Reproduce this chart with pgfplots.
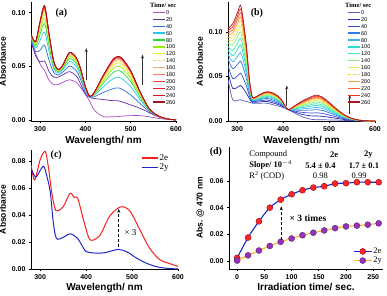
\documentclass[border=0pt]{standalone}
\usepackage{fontspec}
\setmainfont{Liberation Serif}
\setsansfont{Liberation Sans}
\usepackage{pgfplots}
\pgfplotsset{compat=1.18}
\usepackage{pgfplotstable}
\usetikzlibrary{arrows.meta}

\definecolor{ca0}{RGB}{170,70,200}
\definecolor{ca20}{RGB}{100,40,180}
\definecolor{ca40}{RGB}{40,110,220}
\definecolor{ca60}{RGB}{40,200,230}
\definecolor{ca80}{RGB}{40,220,60}
\definecolor{ca100}{RGB}{140,240,20}
\definecolor{ca120}{RGB}{230,240,30}
\definecolor{ca140}{RGB}{255,220,60}
\definecolor{ca160}{RGB}{255,170,100}
\definecolor{ca180}{RGB}{255,120,90}
\definecolor{ca200}{RGB}{250,60,50}
\definecolor{ca220}{RGB}{240,30,30}
\definecolor{ca240}{RGB}{210,20,30}
\definecolor{ca260}{RGB}{160,20,40}

\definecolor{cb0}{RGB}{90,90,200}
\definecolor{cb20}{RGB}{30,40,180}
\definecolor{cb40}{RGB}{50,80,210}
\definecolor{cb60}{RGB}{50,120,230}
\definecolor{cb80}{RGB}{60,180,240}
\definecolor{cb100}{RGB}{40,220,200}
\definecolor{cb120}{RGB}{60,240,160}
\definecolor{cb140}{RGB}{130,240,140}
\definecolor{cb160}{RGB}{210,240,80}
\definecolor{cb180}{RGB}{255,210,40}
\definecolor{cb200}{RGB}{255,160,50}
\definecolor{cb220}{RGB}{255,100,50}
\definecolor{cb240}{RGB}{240,50,30}
\definecolor{cb260}{RGB}{170,20,30}

\definecolor{c2e}{RGB}{250,30,30}
\definecolor{c2y}{RGB}{30,40,200}
\definecolor{l2e}{RGB}{20,40,210}
\definecolor{l2y}{RGB}{255,180,30}
\definecolor{m2e}{RGB}{255,40,40}
\definecolor{m2y}{RGB}{150,50,190}

\pgfplotstableread{
lam t0 t20 t40 t60 t80 t100 t120 t140 t160 t180 t200 t220 t240 t260
280 0.072 0.074 0.0757 0.0772 0.0781 0.0787 0.0791 0.0794 0.0796 0.0797 0.0799 0.0799 0.0800 0.0800
290 0.062 0.060 0.0638 0.0669 0.0688 0.0701 0.0711 0.0717 0.0721 0.0724 0.0727 0.0729 0.0730 0.0730
300 0.052 0.054 0.0650 0.0741 0.0798 0.0836 0.0863 0.0882 0.0893 0.0903 0.0911 0.0916 0.0919 0.0920
310 0.046 0.055 0.0698 0.0820 0.0897 0.0948 0.0984 0.1009 0.1024 0.1037 0.1047 0.1055 0.1062 0.1070
320 0.037 0.045 0.0552 0.0636 0.0688 0.0723 0.0748 0.0765 0.0776 0.0784 0.0791 0.0797 0.0799 0.0800
330 0.033 0.040 0.0444 0.0480 0.0502 0.0517 0.0528 0.0535 0.0540 0.0543 0.0546 0.0549 0.0550 0.0550
340 0.033 0.040 0.0420 0.0437 0.0448 0.0455 0.0460 0.0463 0.0465 0.0467 0.0468 0.0469 0.0470 0.0470
350 0.035 0.042 0.0446 0.0468 0.0481 0.0490 0.0497 0.0501 0.0504 0.0506 0.0508 0.0509 0.0510 0.0510
365 0.0375 0.045 0.0502 0.0545 0.0572 0.0590 0.0603 0.0612 0.0617 0.0622 0.0626 0.0628 0.0630 0.0630
380 0.035 0.041 0.0459 0.0500 0.0526 0.0543 0.0555 0.0563 0.0568 0.0572 0.0576 0.0578 0.0580 0.0580
390 0.030 0.033 0.0371 0.0404 0.0425 0.0439 0.0449 0.0456 0.0460 0.0464 0.0467 0.0469 0.0470 0.0470
400 0.024 0.024 0.0260 0.0277 0.0288 0.0295 0.0300 0.0303 0.0305 0.0307 0.0308 0.0309 0.0310 0.0310
410 0.017 0.021 0.0213 0.0215 0.0217 0.0218 0.0219 0.0219 0.0219 0.0220 0.0220 0.0220 0.0220 0.0220
420 0.009 0.020 0.0217 0.0232 0.0241 0.0247 0.0251 0.0254 0.0256 0.0257 0.0259 0.0259 0.0260 0.0260
440 0.003 0.019 0.0257 0.0312 0.0346 0.0369 0.0386 0.0397 0.0404 0.0410 0.0414 0.0418 0.0419 0.0420
460 0.003 0.018 0.0290 0.0381 0.0438 0.0476 0.0503 0.0522 0.0533 0.0543 0.0551 0.0556 0.0559 0.0560
470 0.003 0.018 0.0299 0.0397 0.0459 0.0500 0.0529 0.0549 0.0561 0.0572 0.0580 0.0586 0.0589 0.0590
480 0.0035 0.017 0.0289 0.0387 0.0449 0.0490 0.0519 0.0539 0.0551 0.0562 0.0570 0.0576 0.0579 0.0580
500 0.004 0.014 0.0233 0.0310 0.0358 0.0390 0.0412 0.0428 0.0438 0.0446 0.0452 0.0457 0.0459 0.0460
520 0.004 0.011 0.0156 0.0195 0.0219 0.0235 0.0246 0.0254 0.0259 0.0263 0.0266 0.0268 0.0270 0.0270
540 0.003 0.007 0.0082 0.0091 0.0097 0.0101 0.0104 0.0106 0.0107 0.0108 0.0109 0.0110 0.0110 0.0110
560 0.0015 0.003 0.0033 0.0035 0.0037 0.0038 0.0039 0.0039 0.0039 0.0040 0.0040 0.0040 0.0040 0.0040
580 0.0005 0.001 0.001 0.001 0.001 0.001 0.001 0.001 0.001 0.001 0.001 0.001 0.001 0.001
600 0 0 0 0 0 0 0 0 0 0 0 0 0 0
}\tabA

\pgfplotstableread{
lam t0 t20 t40 t60 t80 t100 t120 t140 t160 t180 t200 t220 t240 t260
280 0.046 0.0547 0.0622 0.0698 0.0750 0.0796 0.0837 0.0878 0.0912 0.0941 0.0968 0.0994 0.1017 0.104
290 0.024 0.0368 0.0478 0.0589 0.0665 0.0733 0.0793 0.0852 0.0903 0.0946 0.0984 0.1022 0.1056 0.109
300 0.023 0.0377 0.0504 0.0632 0.0720 0.0798 0.0867 0.0936 0.0994 0.1043 0.1088 0.1132 0.1171 0.121
307 0.024 0.0399 0.0537 0.0675 0.0770 0.0855 0.0929 0.1003 0.1067 0.1120 0.1168 0.1215 0.1258 0.130
312 0.023 0.0373 0.0496 0.0620 0.0705 0.0781 0.0848 0.0914 0.0971 0.1019 0.1061 0.1104 0.1142 0.118
320 0.022 0.0315 0.0396 0.0478 0.0535 0.0585 0.0630 0.0674 0.0711 0.0743 0.0771 0.0800 0.0825 0.085
327 0.021 0.0246 0.0277 0.0308 0.0330 0.0349 0.0366 0.0383 0.0397 0.0409 0.0420 0.0431 0.0440 0.045
333 0.020 0.0211 0.0220 0.0229 0.0235 0.0241 0.0246 0.0250 0.0255 0.0258 0.0261 0.0264 0.0267 0.027
340 0.020 0.0211 0.0220 0.0229 0.0235 0.0241 0.0246 0.0250 0.0255 0.0258 0.0261 0.0264 0.0267 0.027
350 0.020 0.0215 0.0228 0.0241 0.0250 0.0258 0.0265 0.0272 0.0278 0.0283 0.0288 0.0292 0.0296 0.030
365 0.020 0.0220 0.0236 0.0253 0.0265 0.0275 0.0285 0.0294 0.0301 0.0308 0.0314 0.0320 0.0325 0.033
380 0.018 0.0200 0.0216 0.0233 0.0245 0.0255 0.0265 0.0274 0.0281 0.0288 0.0294 0.0300 0.0305 0.031
395 0.016 0.0174 0.0185 0.0197 0.0205 0.0212 0.0219 0.0225 0.0230 0.0235 0.0239 0.0243 0.0246 0.025
410 0.013 0.013 0.013 0.013 0.013 0.013 0.013 0.013 0.013 0.013 0.013 0.013 0.013 0.013
425 0.009 0.0102 0.0112 0.0123 0.0130 0.0136 0.0142 0.0148 0.0152 0.0156 0.0160 0.0164 0.0167 0.017
440 0.005 0.0076 0.0098 0.0120 0.0135 0.0149 0.0161 0.0172 0.0183 0.0191 0.0199 0.0206 0.0213 0.022
460 0.002 0.0058 0.0090 0.0123 0.0145 0.0165 0.0183 0.0200 0.0215 0.0228 0.0239 0.0250 0.0260 0.027
472 0.0015 0.0056 0.0092 0.0128 0.0153 0.0175 0.0194 0.0213 0.0230 0.0243 0.0256 0.0268 0.0279 0.029
485 0.0015 0.0053 0.0086 0.0120 0.0143 0.0163 0.0181 0.0199 0.0214 0.0227 0.0238 0.0250 0.0260 0.027
500 0.0012 0.0042 0.0067 0.0093 0.0111 0.0127 0.0141 0.0155 0.0166 0.0176 0.0185 0.0194 0.0202 0.021
520 0.001 0.0027 0.0041 0.0055 0.0065 0.0074 0.0082 0.0089 0.0096 0.0101 0.0106 0.0111 0.0116 0.012
540 0.0005 0.0012 0.0018 0.0023 0.0028 0.0031 0.0034 0.0037 0.0040 0.0042 0.0044 0.0046 0.0048 0.005
560 0.0002 0.0004 0.0006 0.0007 0.0009 0.0010 0.0010 0.0011 0.0012 0.0013 0.0013 0.0014 0.0014 0.0015
580 0 0 0.0001 0.0001 0.0002 0.0002 0.0002 0.0002 0.0002 0.0002 0.0003 0.0003 0.0003 0.0003
600 0 0 0 0 0 0 0 0 0 0 0 0 0 0
}\tabB

\pgfplotstableread{
lam a
280 0.077
288 0.066
300 0.081
311 0.087
318 0.075
325 0.057
332 0.045
337 0.043
350 0.046
365 0.056
374 0.053
382 0.052
397 0.033
409 0.0215
430 0.025
451 0.039
475 0.046
495 0.043
517 0.029
538 0.0155
560 0.007
582 0.004
600 0.002
}\tabCe

\pgfplotstableread{
lam a
280 0.0745
290 0.068
300 0.073
308 0.076
315 0.068
322 0.057
328 0.036
333 0.025
338 0.022
350 0.0234
365 0.026
380 0.0232
390 0.018
400 0.013
420 0.0118
440 0.012
470 0.0145
490 0.0125
510 0.008
530 0.0045
550 0.002
570 0.0007
600 0
}\tabCy

\pgfplotstableread{
t a
0 0.0025
20 0.0177
40 0.0298
60 0.0400
80 0.0460
100 0.0500
120 0.0530
140 0.0550
160 0.0560
180 0.0580
200 0.0583
220 0.0590
240 0.0590
260 0.0590
}\tabDe

\pgfplotstableread{
t a
0 0.0005
20 0.0044
40 0.0080
60 0.0114
80 0.0145
100 0.0170
120 0.0194
140 0.0213
160 0.0230
180 0.0247
200 0.0260
220 0.0266
240 0.0273
260 0.0283
}\tabDy

\pgfplotsset{
  myax/.style={
    scale only axis,
    axis x line*=bottom, axis y line*=left,
    tick align=outside, major tick length=2pt,
    axis line style={line width=0.6pt},
    every tick/.style={black, line width=0.6pt},
    tick label style={font=\sffamily\bfseries\fontsize{7}{8}\selectfont},
    /pgf/number format/assume math mode=true,
    xlabel style={font=\sffamily\bfseries\fontsize{10}{12}\selectfont, yshift=2pt},
    ylabel style={font=\sffamily\bfseries\fontsize{8.5}{10}\selectfont, yshift=-1pt},
    scaled y ticks=false,
    yticklabel style={/pgf/number format/.cd, fixed, fixed zerofill, precision=2},
    clip mode=individual,
  },
  spec/.style={
    xmin=280, xmax=600, xtick={300,400,500,600},
    xlabel={Wavelength/ nm}, ylabel={Absorbance},
  },
  tlegend/.style={
    legend style={draw=none, fill=none, anchor=north west,
      font=\sffamily\fontsize{5.5}{6}\selectfont,
      row sep=1.5pt, inner sep=0pt,
      nodes={inner sep=0.6pt, text height=4.2pt, text depth=0pt}},
    legend cell align=left,
    legend image code/.code={\draw[##1, line width=1.3pt] (0pt,0pt) -- (12pt,0pt);},
  },
  cur/.style={no marks, smooth, line width=0.7pt},
}

\begin{document}
\begin{tikzpicture}
\path[use as bounding box] (0pt,0pt) rectangle (387pt,295pt);

% ---------------- (a) ----------------
\begin{axis}[myax, spec, tlegend, at={(31pt,174pt)}, anchor=south west,
  width=145pt, height=119pt, ymin=-0.001, ymax=0.110, ytick={0,0.05,0.1},
  legend style={at={(rel axis cs:0.835,0.995)}}]
\addlegendimage{empty legend}
\addlegendentry{\hspace*{-16pt}\rmfamily\bfseries\fontsize{6.5}{7}\selectfont Time/ sec}
\addplot[cur, ca0] table[x=lam,y=t0]{\tabA}; \addlegendentry{0}
\addplot[cur, ca20] table[x=lam,y=t20]{\tabA}; \addlegendentry{20}
\addplot[cur, ca40] table[x=lam,y=t40]{\tabA}; \addlegendentry{40}
\addplot[cur, ca60] table[x=lam,y=t60]{\tabA}; \addlegendentry{60}
\addplot[cur, ca80] table[x=lam,y=t80]{\tabA}; \addlegendentry{80}
\addplot[cur, ca100] table[x=lam,y=t100]{\tabA}; \addlegendentry{100}
\addplot[cur, ca120] table[x=lam,y=t120]{\tabA}; \addlegendentry{120}
\addplot[cur, ca140, densely dashed] table[x=lam,y=t140]{\tabA}; \addlegendentry{140}
\addplot[cur, ca160] table[x=lam,y=t160]{\tabA}; \addlegendentry{160}
\addplot[cur, ca180] table[x=lam,y=t180]{\tabA}; \addlegendentry{180}
\addplot[cur, ca200] table[x=lam,y=t200]{\tabA}; \addlegendentry{200}
\addplot[cur, ca220] table[x=lam,y=t220]{\tabA}; \addlegendentry{220}
\addplot[cur, ca240] table[x=lam,y=t240]{\tabA}; \addlegendentry{240}
\addplot[cur, ca260] table[x=lam,y=t260]{\tabA}; \addlegendentry{260}
\draw[-{Stealth[length=4pt,width=3pt]}, line width=0.8pt, black!80] (axis cs:402,0.0375) -- (axis cs:402,0.067);
\draw[-{Stealth[length=4pt,width=3pt]}, line width=0.8pt, black!80] (axis cs:526,0.033) -- (axis cs:526,0.061);
\node[font=\rmfamily\bfseries\fontsize{10}{12}\selectfont] at (axis cs:347,0.100) {(a)};
\end{axis}

% ---------------- (b) ----------------
\begin{axis}[myax, spec, tlegend, at={(228pt,174pt)}, anchor=south west,
  width=147pt, height=119pt, ymin=0, ymax=0.1337, ytick={0,0.05,0.1},
  legend style={at={(rel axis cs:0.81,0.995)}}]
\addlegendimage{empty legend}
\addlegendentry{\hspace*{-16pt}\rmfamily\bfseries\fontsize{6.5}{7}\selectfont Time/ sec}
\addplot[cur, cb0] table[x=lam,y=t0]{\tabB}; \addlegendentry{0}
\addplot[cur, cb20] table[x=lam,y=t20]{\tabB}; \addlegendentry{20}
\addplot[cur, cb40] table[x=lam,y=t40]{\tabB}; \addlegendentry{40}
\addplot[cur, cb60] table[x=lam,y=t60]{\tabB}; \addlegendentry{60}
\addplot[cur, cb80] table[x=lam,y=t80]{\tabB}; \addlegendentry{80}
\addplot[cur, cb100] table[x=lam,y=t100]{\tabB}; \addlegendentry{100}
\addplot[cur, cb120] table[x=lam,y=t120]{\tabB}; \addlegendentry{120}
\addplot[cur, cb140] table[x=lam,y=t140]{\tabB}; \addlegendentry{140}
\addplot[cur, cb160] table[x=lam,y=t160]{\tabB}; \addlegendentry{160}
\addplot[cur, cb180, densely dashed] table[x=lam,y=t180]{\tabB}; \addlegendentry{180}
\addplot[cur, cb200] table[x=lam,y=t200]{\tabB}; \addlegendentry{200}
\addplot[cur, cb220] table[x=lam,y=t220]{\tabB}; \addlegendentry{220}
\addplot[cur, cb240] table[x=lam,y=t240]{\tabB}; \addlegendentry{240}
\addplot[cur, cb260] table[x=lam,y=t260]{\tabB}; \addlegendentry{260}
\draw[-{Stealth[length=4pt,width=3pt]}, line width=0.8pt, black!80] (axis cs:408,0.0167) -- (axis cs:408,0.040);
\draw[-{Stealth[length=4pt,width=3pt]}, line width=0.8pt, black!80] (axis cs:545,0.0074) -- (axis cs:545,0.0296);
\node[font=\rmfamily\bfseries\fontsize{10}{12}\selectfont] at (axis cs:343,0.121) {(b)};
\end{axis}

% ---------------- (c) ----------------
\begin{axis}[myax, spec, at={(31pt,26pt)}, anchor=south west,
  width=147pt, height=119pt, ymin=0, ymax=0.0881, ytick={0,0.02,0.04,0.06,0.08},
  xlabel style={yshift=1pt},
  legend style={at={(rel axis cs:0.75,0.975)}, anchor=north west, draw=none, fill=none,
    font=\rmfamily\fontsize{9}{10}\selectfont, row sep=0pt, inner sep=0pt,
    nodes={inner sep=1pt}},
  legend cell align=left,
  legend image code/.code={\draw[#1, line width=1.2pt] (0pt,0pt) -- (16pt,0pt);}]
\addplot[no marks, smooth, line width=1pt, c2e] table[x=lam,y=a]{\tabCe}; \addlegendentry{2e}
\addplot[no marks, smooth, line width=1pt, c2y] table[x=lam,y=a]{\tabCy}; \addlegendentry{2y}
\draw[densely dashed, -{Stealth[length=4pt,width=3pt]}, line width=0.6pt] (axis cs:471,0.0165) -- (axis cs:471,0.0445);
\node[anchor=west, font=\rmfamily\fontsize{9}{10}\selectfont] at (axis cs:476,0.027) {× 3};
\node[font=\rmfamily\bfseries\fontsize{10}{12}\selectfont] at (axis cs:335,0.0845) {(c)};
\end{axis}

% ---------------- (d) ----------------
\begin{axis}[myax, at={(229pt,26pt)}, anchor=south west,
  width=154pt, height=122pt, xmin=-15, xmax=268, ymin=-0.0058, ymax=0.0853,
  xtick={0,50,100,150,200,250}, ytick={0,0.02,0.04,0.06},
  xlabel={Irradiation time/ sec.}, ylabel={Abs. @ 470 nm},
  xlabel style={yshift=1pt},
  legend style={at={(rel axis cs:1,0.03)}, anchor=south east, draw=none, fill=none,
    font=\rmfamily\fontsize{8.5}{10}\selectfont, row sep=0pt, inner sep=0pt,
    nodes={inner sep=1pt}},
  legend cell align=left,
  legend image code/.code={\draw[mark repeat=2, mark phase=2, #1] plot coordinates {(0pt,0pt) (9pt,0pt) (18pt,0pt)};}]
\addplot[smooth, line width=1.1pt, l2e, mark=*, mark size=3pt,
  mark options={fill=m2e, draw=red!60!black, line width=0.4pt}] table[x=t,y=a]{\tabDe}; \addlegendentry{2e}
\addplot[smooth, line width=1.1pt, l2y, mark=*, mark size=3pt,
  mark options={fill=m2y, draw=m2y!60!black, line width=0.4pt}] table[x=t,y=a]{\tabDy}; \addlegendentry{2y}
\draw[densely dashed, -{Stealth[length=4pt,width=3pt]}, line width=0.6pt] (axis cs:81,0.0155) -- (axis cs:81,0.041);
\node[anchor=west, font=\rmfamily\bfseries\fontsize{9.5}{11}\selectfont] at (axis cs:90,0.0318) {× 3 times};
\node[font=\rmfamily\bfseries\fontsize{10}{12}\selectfont] at (axis cs:-39,0.0817) {(d)};
\begin{scope}[every node/.style={font=\rmfamily\fontsize{8.5}{10}\selectfont, inner sep=0pt}]
\node[anchor=west] at (axis cs:22,0.0795) {Compound};
\node[font=\rmfamily\bfseries\fontsize{8.5}{10}\selectfont] at (axis cs:178,0.0795) {2e};
\node[font=\rmfamily\bfseries\fontsize{8.5}{10}\selectfont] at (axis cs:241,0.0795) {2y};
\node[anchor=west, font=\rmfamily\bfseries\fontsize{8.5}{10}\selectfont] at (axis cs:22,0.0716) {Slope/ 10$^{-4}$};
\node[font=\rmfamily\bfseries\fontsize{8.5}{10}\selectfont] at (axis cs:153,0.0716) {5.4 ± 0.4};
\node[font=\rmfamily\bfseries\fontsize{8.5}{10}\selectfont] at (axis cs:233,0.0716) {1.7 ± 0.1};
\node[anchor=west] at (axis cs:22,0.0636) {R\textsuperscript{2} (COD)};
\node at (axis cs:153,0.0636) {0.98};
\node at (axis cs:224,0.0636) {0.99};
\end{scope}
\end{axis}
\end{tikzpicture}
\end{document}
